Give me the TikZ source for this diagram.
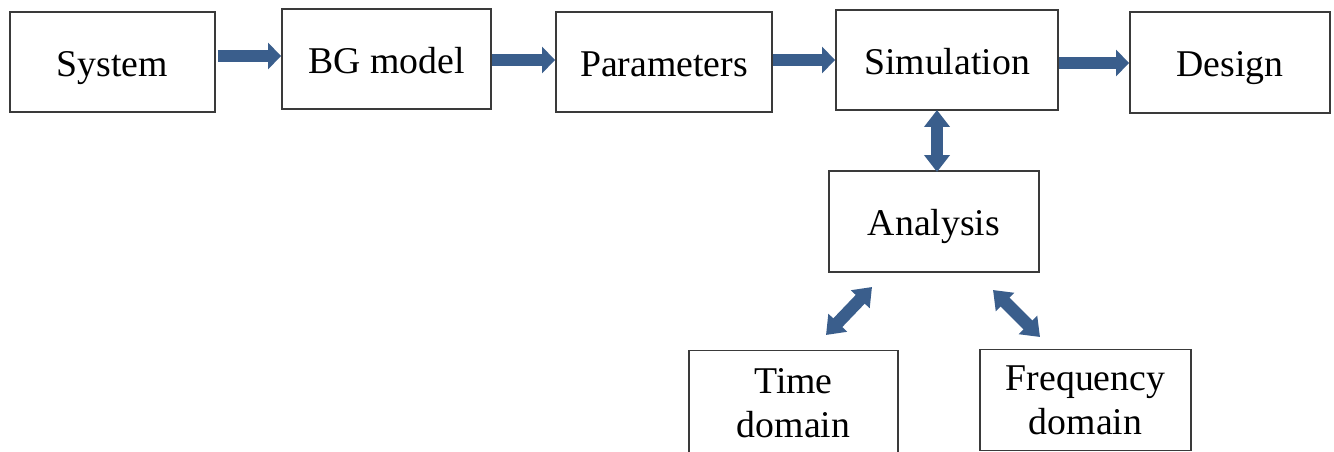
\documentclass[tikz,border=0pt]{standalone}
\usepackage{fontspec}
\setmainfont{Liberation Serif}
\usetikzlibrary{arrows.meta}
\definecolor{arrblue}{HTML}{3A5E8C}
\definecolor{boxgray}{HTML}{3A3A3A}
\tikzset{
  blk/.style={draw=boxgray, line width=1.1pt, fill=white, inner sep=0pt, align=center, font=\fontsize{21.5}{25}\selectfont},
  one/.style={text height=16pt, text depth=0pt},
  harr/.style={draw=arrblue, line width=0.24cm, -{Triangle[length=0.26cm, width=0.52cm]}},
  darr/.style={draw=arrblue, line width=0.25cm, {Triangle[length=0.34cm, width=0.5cm]}-{Triangle[length=0.34cm, width=0.5cm]}}
}
\begin{document}
\begin{tikzpicture}[x=0.02cm, y=-0.02cm]
\useasboundingbox (0,0) rectangle (1334,452);
\node[blk, one, minimum width=4.1cm, minimum height=2cm] (sys) at (112.5,62) {System};
\node[blk, one, minimum width=4.18cm, minimum height=2cm] (bg) at (386.5,59) {BG model};
\node[blk, one, minimum width=4.32cm, minimum height=2cm] (par) at (664,62) {Parameters};
\node[blk, one, minimum width=4.44cm, minimum height=2cm] (sim) at (947,60) {Simulation};
\node[blk, one, minimum width=4.0cm, minimum height=2.02cm] (des) at (1230,62.5) {Design};
\node[blk, one, minimum width=4.2cm, minimum height=2.02cm] (ana) at (934,221.5) {Analysis};
\node[blk, minimum width=4.18cm, minimum height=2.1cm] (tim) at (793.5,403) {Time\\domain};
\node[blk, minimum width=4.22cm, minimum height=2.02cm] (frq) at (1085.5,400) {Frequency\\domain};
\draw[harr] (sys.east) ++(0.04cm,0.12cm) coordinate (a1) -- (a1 -| bg.west);
\draw[harr] (bg.east) ++(0,-0.02cm) coordinate (a2) -- (a2 -| par.west);
\draw[harr] (par.east) ++(0,0.04cm) coordinate (a3) -- (a3 -| sim.west);
\draw[harr] (sim.east) ++(0,-0.06cm) coordinate (a4) -- (a4 -| des.west);
\coordinate (v1) at (937,110);
\coordinate (v2) at (937,172);
\draw[darr] (v1) -- (v2);
\coordinate (d1) at (872,287);
\coordinate (d2) at (826,335);
\draw[darr] (d1) -- (d2);
\coordinate (e1) at (993,290);
\coordinate (e2) at (1040,337);
\draw[darr] (e1) -- (e2);
\end{tikzpicture}
\end{document}
